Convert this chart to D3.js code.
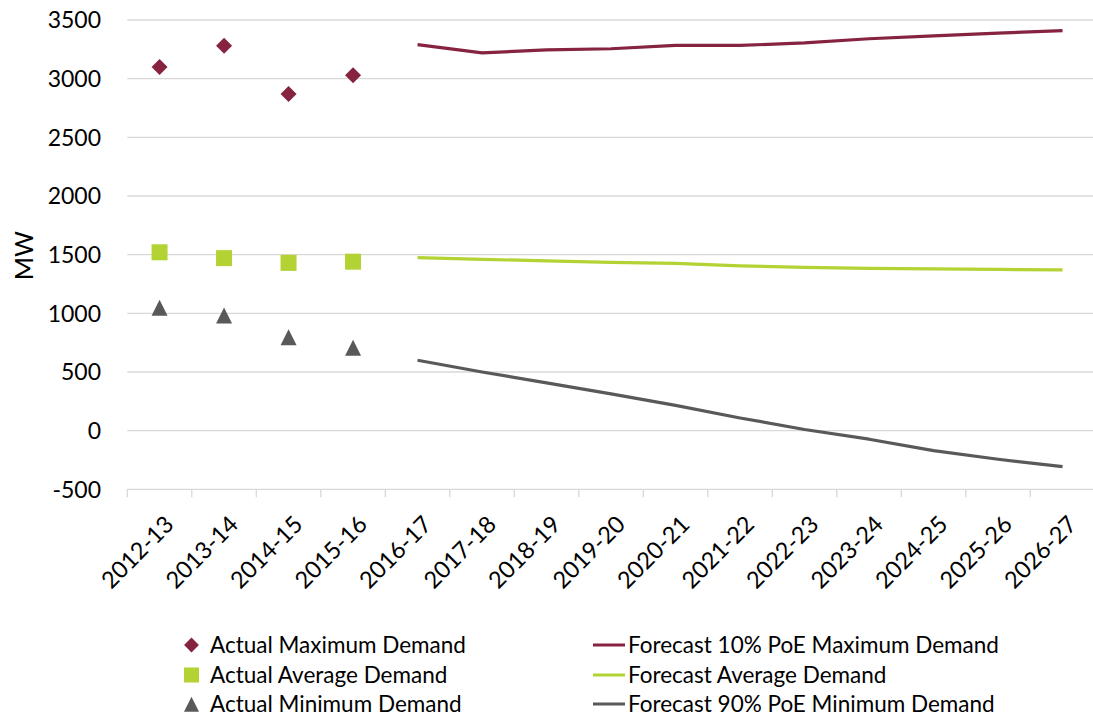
<!DOCTYPE html>
<html>
<head>
<meta charset="utf-8">
<script src="https://cdn.jsdelivr.net/npm/d3@7"></script>
<style>
  html, body { margin: 0; padding: 0; background: #fff; }
  svg { display: block; font-family: Lato, "Open Sans", sans-serif; }
</style>
</head>
<body>
<svg id="chart" width="1093" height="718"></svg>
<script>
// Financial years on the category axis
const years = ["2012-13","2013-14","2014-15","2015-16","2016-17","2017-18","2018-19",
  "2019-20","2020-21","2021-22","2022-23","2023-24","2024-25","2025-26","2026-27"];
const actualYears = ["2012-13","2013-14","2014-15","2015-16"];
const forecastYears = ["2016-17","2017-18","2018-19","2019-20","2020-21","2021-22",
  "2022-23","2023-24","2024-25","2025-26","2026-27"];

// Actual demand (MW)
const actualMax = [3100, 3280, 2870, 3030];
const actualAvg = [1520, 1470, 1430, 1440];
const actualMin = [1040, 975, 790, 700];

// Forecast demand (MW)
const forecastMax = [3290, 3220, 3245, 3255, 3283, 3283, 3305, 3340, 3365, 3388, 3410];
const forecastAvg = [1475, 1460, 1447, 1434, 1425, 1405, 1392, 1383, 1378, 1374, 1370];
const forecastMin = [600, 500, 407, 313, 215, 108, 10, -73, -170, -244, -307];

const yTicks = [-500, 0, 500, 1000, 1500, 2000, 2500, 3000, 3500];

const colMax = "#862341", colAvg = "#b3d234", colMin = "#595959";

const svg = d3.select("#chart");
const plotLeft = 127.3, plotRight = 1094.8, plotTop = 20, plotBottom = 489.3;

const x = d3.scaleBand().domain(years).range([plotLeft, plotRight]).padding(0);
const y = d3.scaleLinear().domain([-500, 3500]).range([plotBottom, plotTop]);
const cx = d => x(d) + x.bandwidth() / 2;

// Horizontal gridlines
svg.append("g").selectAll("line").data(yTicks).join("line")
  .attr("x1", plotLeft).attr("x2", plotRight)
  .attr("y1", d => y(d)).attr("y2", d => y(d))
  .attr("stroke", "#d9d9d9").attr("stroke-width", 1.3);

// Category tick marks below the bottom gridline
svg.append("g").selectAll("line").data(years.concat([null])).join("line")
  .attr("x1", (d, i) => plotLeft + i * x.bandwidth())
  .attr("x2", (d, i) => plotLeft + i * x.bandwidth())
  .attr("y1", plotBottom).attr("y2", plotBottom + 8)
  .attr("stroke", "#d9d9d9").attr("stroke-width", 1.3);

// Y axis labels
svg.append("g").selectAll("text").data(yTicks).join("text")
  .attr("x", 101).attr("y", d => y(d)).attr("dy", "0.36em")
  .attr("text-anchor", "end").attr("font-size", 23).attr("fill", "#000")
  .text(d => d);

// Y axis title
svg.append("text")
  .attr("transform", `translate(33,${y(1500) + 1}) rotate(-90)`)
  .attr("text-anchor", "middle").attr("font-size", 25).attr("fill", "#000")
  .text("MW");

// X axis labels, rotated
svg.append("g").selectAll("text").data(years).join("text")
  .attr("transform", d => `translate(${cx(d) + 4},${plotBottom + 25}) rotate(-45)`)
  .attr("text-anchor", "end").attr("dy", "0.7em")
  .attr("font-size", 23.5).attr("fill", "#000")
  .text(d => d);

// Forecast lines
const line = d3.line().x(d => cx(d[0])).y(d => y(d[1]));
[[forecastMax, colMax], [forecastAvg, colAvg], [forecastMin, colMin]].forEach(([vals, c]) => {
  svg.append("path")
    .datum(forecastYears.map((yr, i) => [yr, vals[i]]))
    .attr("d", line).attr("fill", "none")
    .attr("stroke", c).attr("stroke-width", 3.2).attr("stroke-linejoin", "round");
});

// Actual markers
const diamond = d3.symbol().type(d3.symbolSquare).size(128);
svg.append("g").selectAll("path").data(actualYears.map((yr, i) => [yr, actualMax[i]])).join("path")
  .attr("d", diamond)
  .attr("transform", d => `translate(${cx(d[0])},${y(d[1])}) rotate(45)`)
  .attr("fill", colMax);

svg.append("g").selectAll("rect").data(actualYears.map((yr, i) => [yr, actualAvg[i]])).join("rect")
  .attr("x", d => cx(d[0]) - 8).attr("y", d => y(d[1]) - 8)
  .attr("width", 16).attr("height", 16).attr("fill", colAvg);

const tri = (px, py, s) => `M${px},${py - s * 0.55}L${px + s / 2},${py + s * 0.45}L${px - s / 2},${py + s * 0.45}Z`;
svg.append("g").selectAll("path").data(actualYears.map((yr, i) => [yr, actualMin[i]])).join("path")
  .attr("d", d => tri(cx(d[0]), y(d[1]), 16))
  .attr("fill", colMin);

// Legend
const legL = [
  {label: "Actual Maximum Demand", color: colMax, shape: "diamond"},
  {label: "Actual Average Demand", color: colAvg, shape: "square"},
  {label: "Actual Minimum Demand", color: colMin, shape: "triangle"}
];
const legR = [
  {label: "Forecast 10% PoE Maximum Demand", color: colMax},
  {label: "Forecast Average Demand", color: colAvg},
  {label: "Forecast 90% PoE Minimum Demand", color: colMin}
];
const rowY = [645, 675, 704];

const gl = svg.append("g");
legL.forEach((d, i) => {
  const my = rowY[i], mx = 191.5;
  if (d.shape === "diamond") {
    gl.append("path").attr("d", d3.symbol().type(d3.symbolSquare).size(110)())
      .attr("transform", `translate(${mx},${my}) rotate(45)`).attr("fill", d.color);
  } else if (d.shape === "square") {
    gl.append("rect").attr("x", mx - 7.5).attr("y", my - 7.5).attr("width", 15).attr("height", 15).attr("fill", d.color);
  } else {
    gl.append("path").attr("d", tri(mx, my + 1, 15)).attr("fill", d.color);
  }
  gl.append("text").attr("x", 210).attr("y", my).attr("dy", "0.36em")
    .attr("font-size", 22.5).attr("fill", "#000").text(d.label);
});

legR.forEach((d, i) => {
  const my = rowY[i];
  gl.append("line").attr("x1", 593).attr("x2", 625).attr("y1", my).attr("y2", my)
    .attr("stroke", d.color).attr("stroke-width", 3);
  gl.append("text").attr("x", 628).attr("y", my).attr("dy", "0.36em")
    .attr("font-size", 22.5).attr("fill", "#000").text(d.label);
});
</script>
</body>
</html>
